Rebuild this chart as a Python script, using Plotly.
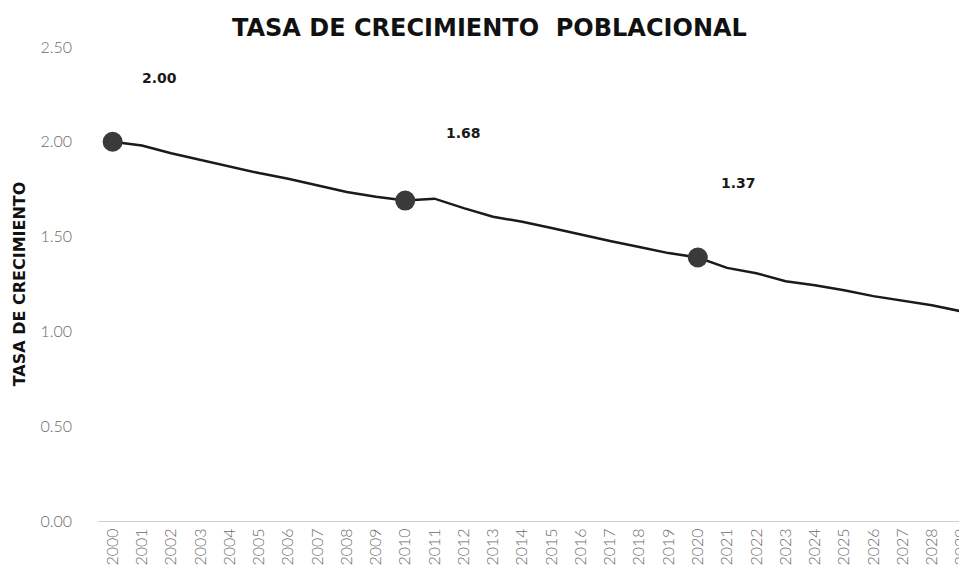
import plotly.graph_objects as go

years = [str(y) for y in range(2000, 2030)]
tasa = [2.00, 1.98, 1.94, 1.905, 1.87, 1.835, 1.805, 1.77, 1.735, 1.71,
        1.69, 1.70, 1.65, 1.605, 1.578, 1.545, 1.51, 1.477, 1.445, 1.413,
        1.39, 1.335, 1.307, 1.265, 1.243, 1.217, 1.186, 1.164, 1.138, 1.106]
marker_years = ["2000", "2010", "2020"]
label_text = ["2.00", "1.68", "1.37"]
y_ticks = [0, 0.5, 1.0, 1.5, 2.0, 2.5]
y_tick_text = ["0.00", "0.50", "1.00", "1.50", "2.00", "2.50"]

marker_idx = [years.index(y) for y in marker_years]
marker_vals = [tasa[i] for i in marker_idx]

fig = go.Figure()
fig.add_trace(go.Scatter(x=years, y=tasa, mode="lines",
                         line=dict(color="#1a1a1a", width=2.5), showlegend=False))
fig.add_trace(go.Scatter(x=marker_years, y=marker_vals, mode="markers",
                         marker=dict(color="#3a3a3a", size=20), showlegend=False))

shifts = [(47, 64), (58, 68), (41, 74)]
for i, v, t, (dx, dy) in zip(marker_idx, marker_vals, label_text, shifts):
    fig.add_annotation(x=i, y=v, xref="x", yref="y", text="<b>" + t + "</b>",
                       showarrow=False, xshift=dx, yshift=dy,
                       font=dict(family="DejaVu Sans", size=14, color="#1a1a1a"))

tick_font = dict(family="Lato", size=16, color="#6a6a6a", weight=300)

fig.update_layout(
    width=959, height=570,
    margin=dict(l=90, r=0, t=39, b=57),
    paper_bgcolor="white", plot_bgcolor="white",
    title=dict(text="<b>TASA DE CRECIMIENTO  POBLACIONAL</b>", x=0.502, xanchor="center",
               y=0.966, yanchor="middle",
               font=dict(family="DejaVu Sans", size=24, color="#111111")),
    xaxis=dict(type="category", range=[-0.5, 29.2], tickangle=-90, automargin=False,
               showgrid=False, showline=True, linecolor="#d0d0d0", linewidth=1,
               ticks="", tickfont=tick_font),
    yaxis=dict(range=[0, 2.5], tickvals=y_ticks, ticktext=y_tick_text, automargin=False,
               showgrid=False, zeroline=False, showline=False, ticks="",
               ticklabelstandoff=25, tickfont=tick_font,
               title=dict(text="<b>TASA DE CRECIMIENTO</b>", standoff=10,
                          font=dict(family="DejaVu Sans", size=16, color="#111111"))),
)

fig.write_html("out.html")
